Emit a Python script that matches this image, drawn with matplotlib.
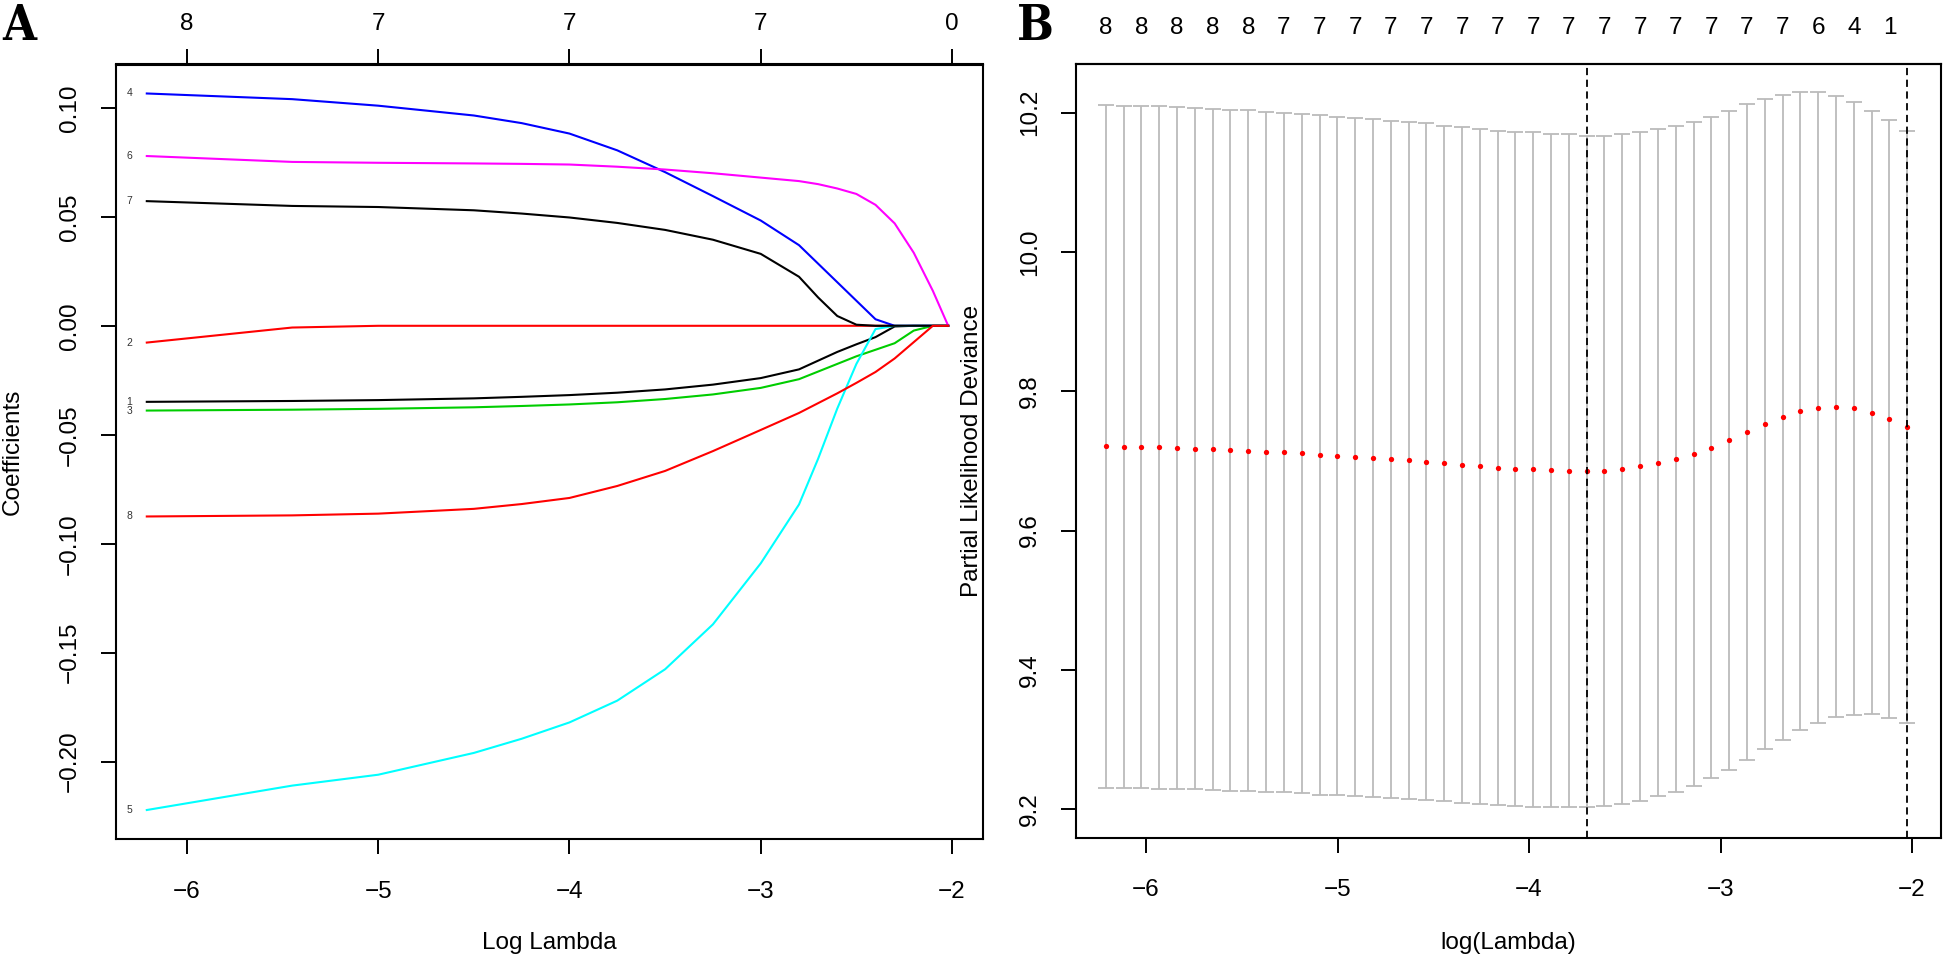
import matplotlib
matplotlib.use("Agg")
import matplotlib.pyplot as plt
import numpy as np

plt.rcParams['font.family'] = ['Liberation Sans', 'DejaVu Sans']

# ---------------- Panel A data: coefficient paths ----------------
log_lambda_A = [-6.21, -5.45, -5.0, -4.5, -4.25, -4.0, -3.75, -3.5, -3.25, -3.0, -2.8, -2.7,
                -2.6, -2.5, -2.4, -2.3, -2.2, -2.1, -2.02]
coef_1 = [-0.0349, -0.0345, -0.0341, -0.0333, -0.0326, -0.0318, -0.0307, -0.0292, -0.0270,
          -0.0240, -0.0200, -0.0160, -0.0120, -0.0085, -0.0052, -0.0003, 0.0, 0.0, 0.0]
coef_2 = [-0.0077, -0.0008, 0.0, 0.0, 0.0, 0.0, 0.0, 0.0, 0.0, 0.0, 0.0, 0.0,
          0.0, 0.0, 0.0, 0.0, 0.0, 0.0, 0.0]
coef_3 = [-0.0389, -0.0385, -0.0381, -0.0374, -0.0368, -0.0361, -0.0351, -0.0336, -0.0315,
          -0.0285, -0.0245, -0.0210, -0.0175, -0.0140, -0.0110, -0.0080, -0.0022, 0.0, 0.0]
coef_4 = [0.1066, 0.1040, 0.1010, 0.0965, 0.0930, 0.0882, 0.0805, 0.0705, 0.0595, 0.0483,
          0.0370, 0.0285, 0.0200, 0.0115, 0.0030, 0.0, 0.0, 0.0, 0.0]
coef_5 = [-0.2222, -0.2110, -0.2060, -0.1960, -0.1895, -0.1820, -0.1720, -0.1576, -0.1370,
          -0.1090, -0.0820, -0.0610, -0.0380, -0.0175, -0.0015, 0.0, 0.0, 0.0, 0.0]
coef_6 = [0.0779, 0.0752, 0.0748, 0.0745, 0.0743, 0.0740, 0.0730, 0.0717, 0.0700, 0.0680,
          0.0664, 0.0650, 0.0630, 0.0605, 0.0555, 0.0470, 0.0335, 0.0160, 0.0]
coef_7 = [0.0572, 0.0550, 0.0545, 0.0530, 0.0515, 0.0497, 0.0472, 0.0440, 0.0395, 0.0330,
          0.0225, 0.0130, 0.0045, 0.0005, 0.0, 0.0, 0.0, 0.0, 0.0]
coef_8 = [-0.0875, -0.0870, -0.0862, -0.0840, -0.0818, -0.0790, -0.0735, -0.0666, -0.0575,
          -0.0478, -0.0400, -0.0355, -0.0310, -0.0262, -0.0212, -0.0150, -0.0075, 0.0, 0.0]
coef_names = ['1', '2', '3', '4', '5', '6', '7', '8']
coef_colors = ['black', 'red', '#00CD00', 'blue', 'cyan', 'magenta', 'black', 'red']
top_ticks_A = [-6, -5, -4, -3, -2]
top_labels_A = ['8', '7', '7', '7', '0']

# ---------------- Panel B data: cross-validation curve ----------------
log_lambda_B = [-6.210, -6.117, -6.024, -5.931, -5.838, -5.745, -5.652, -5.559, -5.466, -5.373,
                -5.280, -5.187, -5.094, -5.001, -4.908, -4.815, -4.722, -4.629, -4.536, -4.443,
                -4.350, -4.257, -4.164, -4.071, -3.978, -3.885, -3.792, -3.699, -3.606, -3.513,
                -3.420, -3.327, -3.234, -3.141, -3.048, -2.955, -2.862, -2.769, -2.676, -2.583,
                -2.490, -2.397, -2.304, -2.211, -2.118, -2.025]
cv_mean = [9.7207, 9.7202, 9.7197, 9.7193, 9.7183, 9.7174, 9.7164, 9.7155, 9.7145, 9.7131,
           9.7121, 9.7107, 9.7088, 9.7073, 9.7059, 9.7040, 9.7021, 9.7006, 9.6987, 9.6963,
           9.6944, 9.6920, 9.6901, 9.6886, 9.6877, 9.6867, 9.6858, 9.6848, 9.6853, 9.6881,
           9.6920, 9.6973, 9.7030, 9.7102, 9.7190, 9.7297, 9.7418, 9.7527, 9.7627, 9.7719,
           9.7766, 9.7780, 9.7756, 9.7694, 9.7598, 9.7489]
cv_sd = [0.490, 0.490, 0.490, 0.490, 0.490, 0.489, 0.489, 0.489, 0.489, 0.488,
         0.488, 0.488, 0.488, 0.487, 0.487, 0.487, 0.486, 0.486, 0.486, 0.485,
         0.485, 0.485, 0.484, 0.484, 0.484, 0.483, 0.483, 0.482, 0.481, 0.481,
         0.480, 0.479, 0.478, 0.477, 0.475, 0.473, 0.471, 0.467, 0.463, 0.458,
         0.453, 0.446, 0.440, 0.433, 0.429, 0.425]
top_labels_B = ['8', '8', '8', '8', '8', '7', '7', '7', '7', '7', '7', '7', '7', '7', '7',
                '7', '7', '7', '7', '7', '6', '4', '1']
lambda_min = -3.699
lambda_1se = -2.025

# ---------------- Figure ----------------
W, H = 1944, 961
fig = plt.figure(figsize=(W / 100, H / 100), dpi=100)

def px_axes(l, r, t, b):
    return fig.add_axes([l / W, 1 - b / H, (r - l) / W, (b - t) / H])

FS = 17.5
axA = px_axes(116, 983, 64.5, 839)
axB = px_axes(1075.7, 1941, 64.3, 837.7)

for ax in (axA, axB):
    for s in ax.spines.values():
        s.set_linewidth(1.5)
        s.set_color('black')
    ax.tick_params(axis='both', direction='out', length=11, width=1.4, labelsize=FS,
                   color='black')
    ax.tick_params(axis='x', pad=19)
    ax.tick_params(axis='y', pad=14)

# Panel A
coefs = [coef_1, coef_2, coef_3, coef_4, coef_5, coef_6, coef_7, coef_8]
for name, vals, col in zip(coef_names, coefs, coef_colors):
    axA.plot(log_lambda_A, vals, color=col, lw=1.5, solid_joinstyle='round')
    axA.text(-6.30, vals[0], name, fontsize=7.5, color='#333333', ha='center', va='center')
axA.set_xlim(-6.371, -1.838)
axA.set_ylim(-0.2355, 0.1199)
axA.set_xticks([-6, -5, -4, -3, -2])
axA.set_xticklabels(['\u22126', '\u22125', '\u22124', '\u22123', '\u22122'])
yt = [-0.20, -0.15, -0.10, -0.05, 0.00, 0.05, 0.10]
axA.set_yticks(yt)
axA.set_yticklabels([('\u2212' if v < 0 else '') + f'{abs(v):.2f}' for v in yt],
                    rotation=90, va='center')
secA = axA.secondary_xaxis('top')
secA.set_xticks(top_ticks_A)
secA.set_xticklabels(top_labels_A)
secA.tick_params(direction='out', length=11, width=1.4, labelsize=FS, pad=10)
secA.spines['top'].set_linewidth(1.5)

# Panel B
axB.errorbar(log_lambda_B, cv_mean, yerr=cv_sd, fmt='none', ecolor='#BBBBBB',
             elinewidth=1.3, capsize=6.0, capthick=1.3, zorder=2)
axB.plot(log_lambda_B, cv_mean, 'o', color='red', ms=3.8, mec='none', zorder=3)
for v in (lambda_min, lambda_1se):
    axB.axvline(v, color='black', lw=1.3, linestyle=(0, (4, 2.5)), zorder=4)
axB.set_xlim(-6.367, -1.849)
axB.set_ylim(9.159, 10.2694)
axB.set_xticks([-6, -5, -4, -3, -2])
axB.set_xticklabels(['\u22126', '\u22125', '\u22124', '\u22123', '\u22122'])
ytB = [9.2, 9.4, 9.6, 9.8, 10.0, 10.2]
axB.set_yticks(ytB)
axB.set_yticklabels([f'{v:.1f}' for v in ytB], rotation=90, va='center')
secB = axB.secondary_xaxis('top')
secB.set_xticks(log_lambda_B[0::2])
secB.set_xticklabels(top_labels_B)
secB.tick_params(direction='out', length=0, labelsize=FS, pad=18)
secB.spines['top'].set_linewidth(1.5)

# axis titles
fig.text(549.5 / W, 1 - 943 / H, 'Log Lambda', fontsize=FS, ha='center', va='center')
fig.text(1508 / W, 1 - 943 / H, 'log(Lambda)', fontsize=FS, ha='center', va='center')
fig.text(13 / W, 1 - 451.5 / H, 'Coefficients', fontsize=FS, ha='center', va='center',
         rotation=90)
fig.text(972 / W, 1 - 451 / H, 'Partial Likelihood Deviance', fontsize=FS, ha='center',
         va='center', rotation=90)

# panel letters
fig.text(19 / W, 1 - 26 / H, 'A', fontsize=35, ha='center', va='center',
         family=['DejaVu Serif', 'Liberation Serif'], fontstretch='condensed', weight='bold')
fig.text(1035 / W, 1 - 26 / H, 'B', fontsize=35, ha='center', va='center',
         family=['DejaVu Serif', 'Liberation Serif'], fontstretch='condensed', weight='bold')

fig.savefig('out.png', dpi=100)
